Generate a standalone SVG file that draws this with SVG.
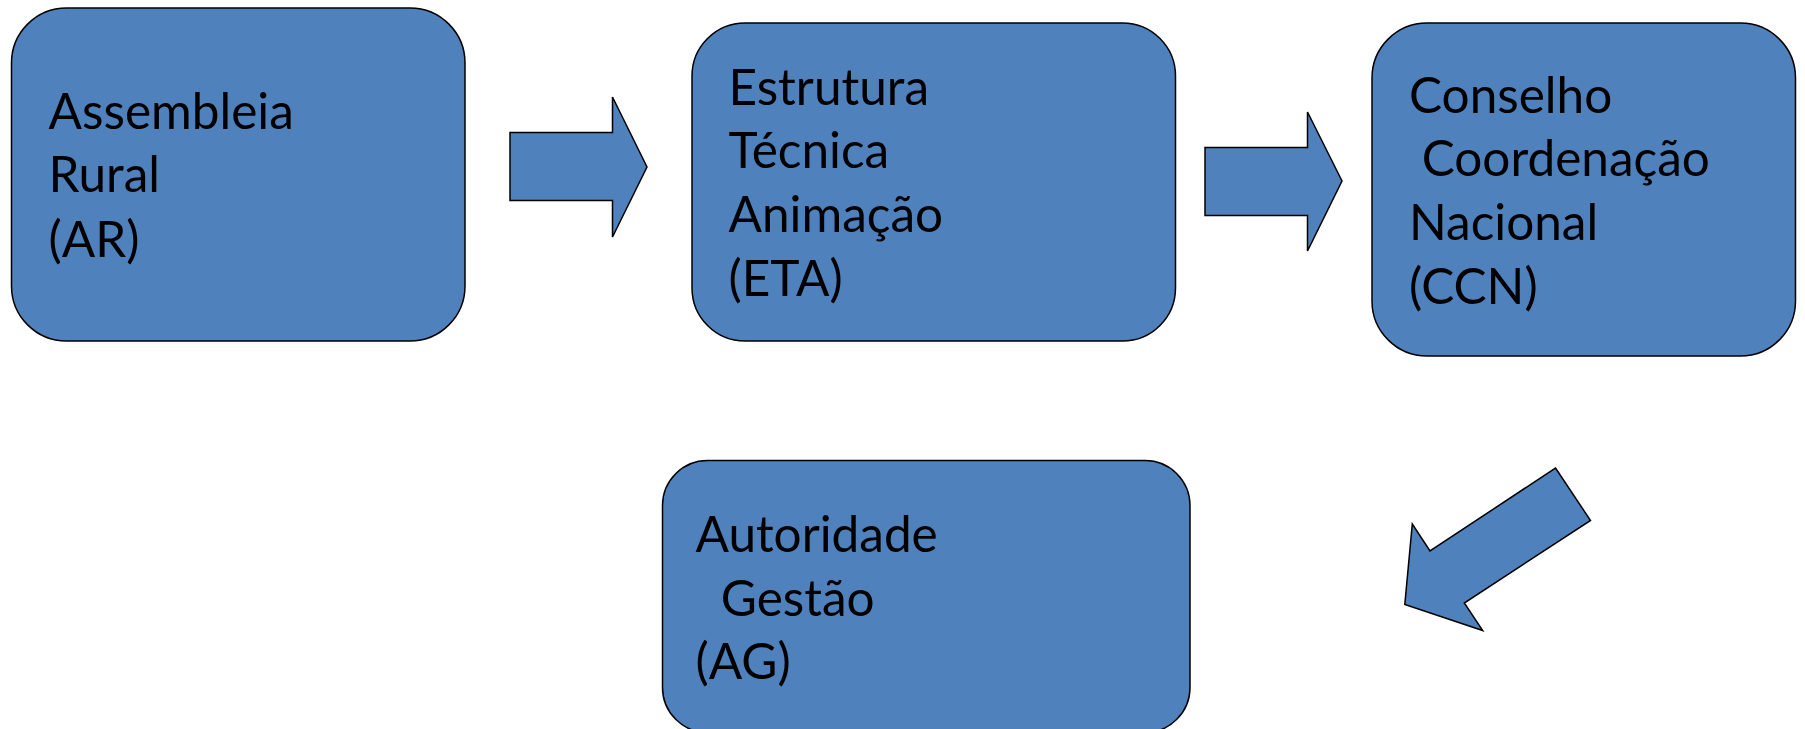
<svg xmlns="http://www.w3.org/2000/svg" width="1805" height="729" viewBox="0 0 1805 729">
<style>
.box{fill:#4F81BD;stroke:#000;stroke-width:1.5}
.arr{fill:#4F81BD;stroke:#000;stroke-width:1.5;stroke-linejoin:miter}
.t{font-family:Lato,"Open Sans","Liberation Sans",sans-serif;font-size:49.5px;fill:#000;white-space:pre}
</style>
<rect width="1805" height="729" fill="#fff"/>
<g id="connectors">
<polygon class="arr" points="510,132.5 612.5,132.5 612.5,97 647,167 612.5,237 612.5,200.5 510,200.5"/>
<polygon class="arr" points="1205,147.5 1307.5,147.5 1307.5,112 1342,181 1307.5,251 1307.5,215.5 1205,215.5"/>
<polygon class="arr" points="1555.5,468 1590.5,520.5 1464.3,603 1482.7,630.5 1404.8,604.5 1412.3,524 1430,551"/>
</g>
<g id="node-ar">
<rect class="box" x="11.5" y="8" width="453.5" height="333" rx="55" ry="55"/>
<text class="t" xml:space="preserve"><tspan x="48.5" y="128.5">Assembleia</tspan><tspan x="48.5" y="192">Rural</tspan><tspan x="48.5" y="256.5">(AR)</tspan></text>
</g>
<g id="node-eta">
<rect class="box" x="692" y="23" width="483.5" height="318" rx="53" ry="53"/>
<text class="t" xml:space="preserve"><tspan x="728.5" y="104.5">Estrutura</tspan><tspan x="728.5" y="168">Técnica</tspan><tspan x="728.5" y="231.5">Animação</tspan><tspan x="728.5" y="295.5">(ETA)</tspan></text>
</g>
<g id="node-ccn">
<rect class="box" x="1372" y="23" width="423.5" height="333" rx="55" ry="55"/>
<text class="t" xml:space="preserve"><tspan x="1409" y="112.5">Conselho</tspan><tspan x="1409" y="176"> Coordenação</tspan><tspan x="1409" y="239.5">Nacional</tspan><tspan x="1409" y="303.5">(CCN)</tspan></text>
</g>
<g id="node-ag">
<rect class="box" x="662.5" y="460.5" width="527.5" height="272" rx="45" ry="45"/>
<text class="t" xml:space="preserve"><tspan x="695.5" y="551.5">Autoridade</tspan><tspan x="695.5" y="615.5">  Gestão</tspan><tspan x="695.5" y="679">(AG)</tspan></text>
</g>
</svg>
